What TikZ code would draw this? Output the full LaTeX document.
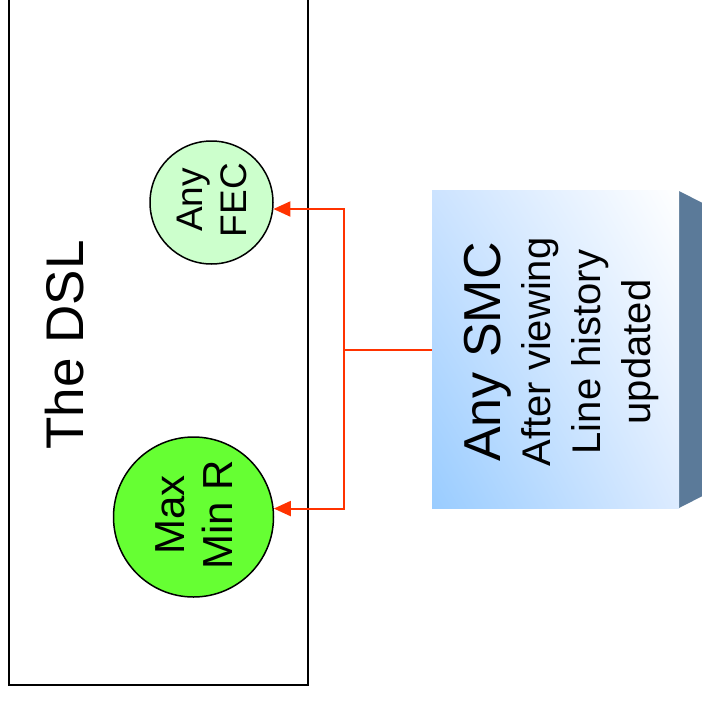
\documentclass[tikz,border=0pt]{standalone}
\usepackage{fontspec}
\setmainfont{Liberation Sans}
\usetikzlibrary{arrows.meta,shadings}
\definecolor{linkred}{HTML}{FF3300}
\definecolor{fecgreen}{HTML}{CCFFCC}
\definecolor{maxgreen}{HTML}{66FF33}
\definecolor{sideblue}{HTML}{5B7A99}
\definecolor{lowblue}{HTML}{99CCFF}
\definecolor{midblueA}{HTML}{CCE3FF}
\definecolor{midblueB}{HTML}{DCEBFF}
\begin{document}
\begin{tikzpicture}[x=1pt,y=-1pt,
  circ/.style={circle,draw=black,line width=1.5pt,inner sep=0pt},
  rtext/.style={rotate=90,align=center,text=black,inner sep=0pt,anchor=north},
  link/.style={draw=linkred,line width=2pt},
  linkarrow/.style={link,-{Triangle[length=17pt,width=15pt]}}]
\useasboundingbox (0,0) rectangle (702,705);
\begin{scope}
\clip (0,0) rectangle (702,705);
% DSL box (open beyond the top edge)
\draw[line width=2.2pt,line join=miter] (9,-20) -- (9,685) -- (308,685) -- (308,-20);
% SMC side face
\fill[sideblue] (679,191) -- (730,217) -- (730,482) -- (679,508) -- cycle;
\end{scope}
% SMC front face
\node[rectangle,minimum width=247pt,minimum height=318pt,inner sep=0pt,
  lower left=lowblue,upper right=white,upper left=midblueA,lower right=midblueB]
  (smc) at (555.5,349.5) {};
\node[rtext,font=\fontsize{40}{50}\selectfont] (smctext) at (463.5,352)
  {{\fontsize{52}{50}\selectfont Any SMC}\\After viewing\\Line history\\updated};
% DSL title
\node[rtext,font=\fontsize{53}{60}\selectfont] (dsl) at (45,345) {The DSL};
% circles
\node[circ,fill=fecgreen,minimum size=123pt] (fec) at (211.5,202.5) {};
\node[rtext,font=\fontsize{37}{43.5}\selectfont] (fectext) at (177,200) {Any\\FEC};
\node[circ,fill=maxgreen,minimum size=160pt] (mm) at (193.5,517) {};
\node[rtext,font=\fontsize{42}{48}\selectfont] (mmtext) at (155,515) {Max\\Min R};
% connectors
\coordinate (j) at (344,349.5);
\draw[link] (smc.west) -- (j);
\draw[linkarrow] (j) |- (fec.-6);
\draw[linkarrow] (j) |- (mm.6.5);
\end{tikzpicture}
\end{document}
